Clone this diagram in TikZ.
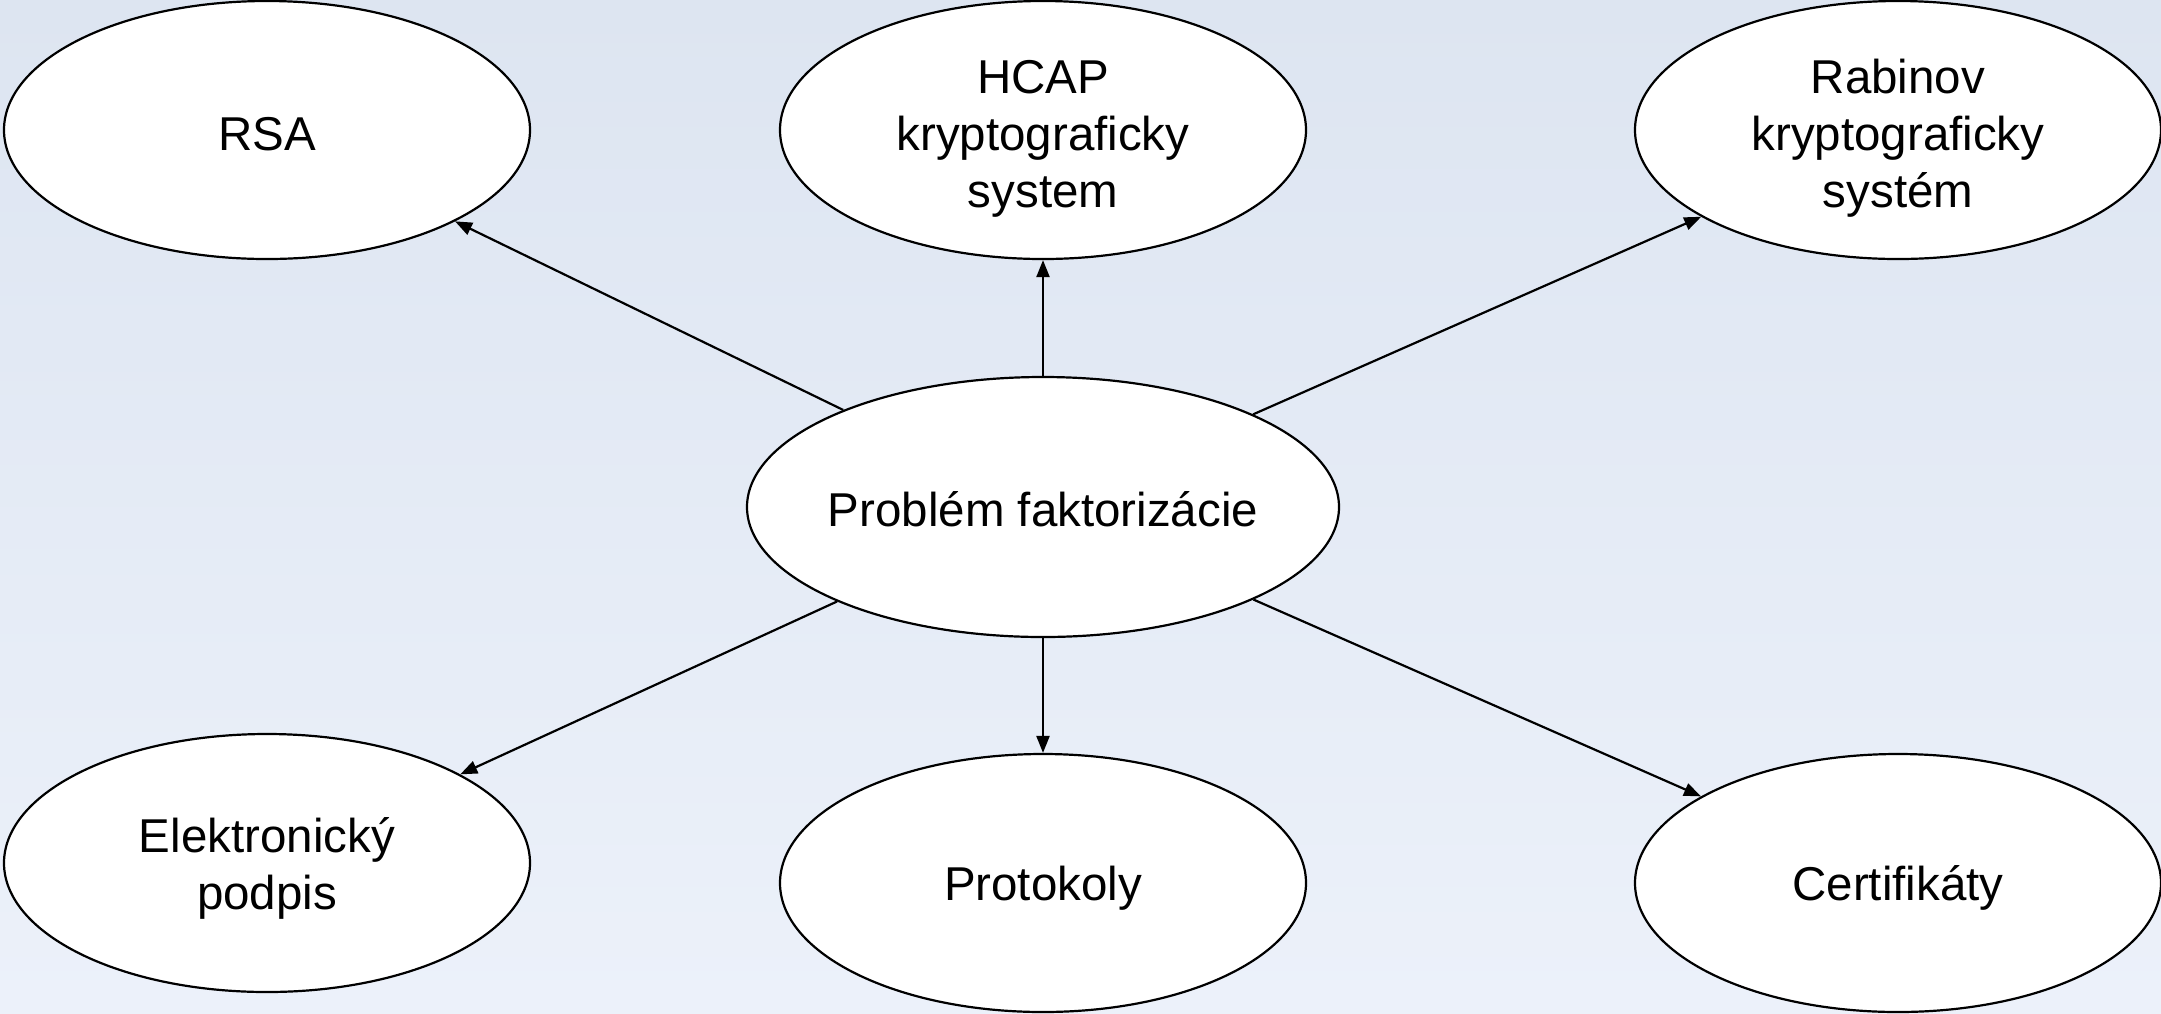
\documentclass[tikz,border=0pt]{standalone}
\usepackage{fontspec}
\setmainfont{Liberation Sans}
\usetikzlibrary{shapes.geometric,arrows.meta}
\definecolor{bgtop}{RGB}{221,229,241}
\definecolor{bgbot}{RGB}{236,241,250}
\begin{document}
\begin{tikzpicture}[x=1pt,y=-1pt,
  bub/.style={ellipse,draw,line width=2.2pt,fill=white,inner sep=0pt,
    minimum width=526pt,minimum height=258pt},
  bigbub/.style={bub,minimum width=592pt,minimum height=260pt},
  lbl/.style={align=center,inner sep=0pt,font=\fontsize{47.5}{57}\selectfont},
  link/.style={line width=2.2pt,-{Triangle[length=17pt,width=13pt]}}]
\useasboundingbox (0,0) rectangle (2161,1013);
\shade[top color=bgtop,bottom color=bgbot] (0,0) rectangle (2161,1013);
\node[bigbub,label={[lbl,yshift=-2pt]center:{Problém faktorizácie}}] (c) at (1043,507) {};
\node[bub,label={[lbl,yshift=-4pt]center:{RSA}}] (rsa) at (267,130) {};
\node[bub,label={[lbl,yshift=-9pt]center:{HCAP\\kryptograficky\\system}}] (hcap) at (1043,130) {};
\node[bub,label={[lbl,yshift=-8pt]center:{Rabinov\\kryptograficky\\systém}}] (rab) at (1898,130) {};
\node[bub,label={[lbl,yshift=-5pt]center:{Elektronický\\podpis}}] (el) at (267,863) {};
\node[bub,label={[lbl,yshift=-5pt]center:{Protokoly}}] (prot) at (1043,883) {};
\node[bub,label={[lbl,yshift=-5pt]center:{Certifikáty}}] (cert) at (1898,883) {};
\draw[link] (c) -- (rsa);
\draw[link] (c) -- (hcap);
\draw[link] (c) -- (rab);
\draw[link] (c) -- (el);
\draw[link] (c) -- (prot);
\draw[link] (c) -- (cert);
\end{tikzpicture}
\end{document}
